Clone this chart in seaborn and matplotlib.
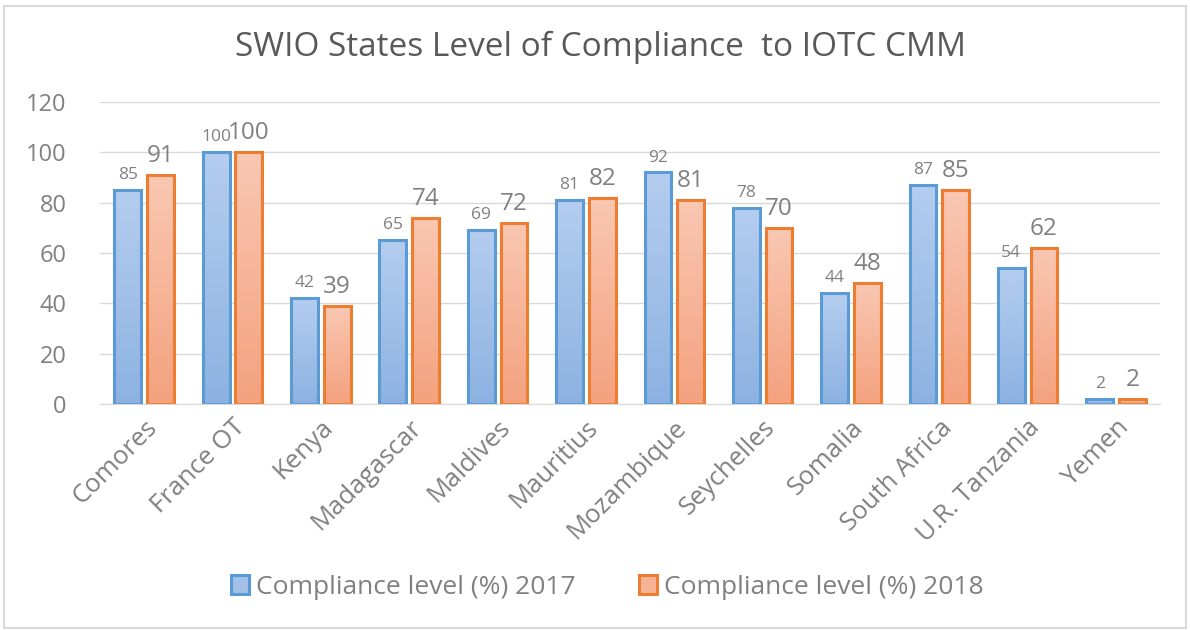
import numpy as np
import pandas as pd
import matplotlib.pyplot as plt
import seaborn as sns
from matplotlib.colors import LinearSegmentedColormap
from matplotlib.patches import Rectangle

countries = ['Comores', 'France OT', 'Kenya', 'Madagascar', 'Maldives', 'Mauritius',
             'Mozambique', 'Seychelles', 'Somalia', 'South Africa', 'U.R. Tanzania', 'Yemen']
level_2017 = [85, 100, 42, 65, 69, 81, 92, 78, 44, 87, 54, 2]
level_2018 = [91, 100, 39, 74, 72, 82, 81, 70, 48, 85, 62, 2]
series = ['Compliance level (%) 2017', 'Compliance level (%) 2018']

df = pd.DataFrame({
    'Country': countries * 2,
    'Level': level_2017 + level_2018,
    'Series': [series[0]] * len(countries) + [series[1]] * len(countries),
})

sns.set_style('white')
plt.rcParams['font.family'] = ['Open Sans', 'DejaVu Sans']
grey = '#808080'

fig = plt.figure(figsize=(11.9, 6.3), dpi=100)
ax = fig.add_axes([0.084, 0.359, 0.891, 0.479])

fills = ['#a3c0e8', '#f6b497']
edges = ['#5b9bd5', '#ed7d31']
grads = [('#b4cdef', '#8db2e2'), ('#f9c7b2', '#f4a27f')]
sns.barplot(data=df, x='Country', y='Level', hue='Series', palette=fills,
            width=0.74, gap=0.18, ax=ax, linewidth=2.2, legend=True)

# vertical gradient fill inside each bar, clipped to the bar shape
for i, cont in enumerate(ax.containers):
    cmap = LinearSegmentedColormap.from_list('g%d' % i, [grads[i][1], grads[i][0]])
    for bar in cont:
        bar.set_edgecolor(edges[i])
        bar.set_facecolor('none')
        x0, y0 = bar.get_x(), bar.get_y()
        w, h = bar.get_width(), bar.get_height()
        grad = np.linspace(0, 1, 64).reshape(-1, 1)
        im = ax.imshow(grad, cmap=cmap, origin='lower', aspect='auto',
                       extent=(x0, x0 + w, y0, y0 + h), zorder=bar.get_zorder() - 0.1)
        im.set_clip_path(bar)
    ax.bar_label(cont, padding=5, color=grey, fontsize=12.5 if i == 0 else 17.5)

ax.set_xlim(-0.5, len(countries) - 0.5)
ax.set_ylim(0, 120)
ax.set_yticks(range(0, 121, 20))
ax.yaxis.grid(True, color='#d9d9d9', linewidth=1)
ax.set_axisbelow(True)
for s in ['top', 'right', 'left']:
    ax.spines[s].set_visible(False)
ax.spines['bottom'].set_color('#d9d9d9')
ax.set_xlabel('')
ax.set_ylabel('')
ax.tick_params(axis='y', labelsize=17, labelcolor=grey, length=0, pad=24)
ax.tick_params(axis='x', labelsize=18.5, labelcolor=grey, length=0, pad=8)
plt.setp(ax.get_xticklabels(), rotation=45, ha='right', rotation_mode='anchor')

fig.suptitle('SWIO States Level of Compliance  to IOTC CMM', fontsize=24,
             color='#595959', x=0.505, y=0.925, va='center')

handles, labels = ax.get_legend_handles_labels()
for h, e, f in zip(handles, edges, fills):
    h.set_edgecolor(e)
    h.set_facecolor(f)
ax.legend(handles, labels, loc='center', bbox_to_anchor=(0.51, 0.068),
          bbox_transform=fig.transFigure, ncol=2, frameon=False, fontsize=19,
          labelcolor=grey, handlelength=0.7, handleheight=0.7, handletextpad=0.25,
          columnspacing=2.4)

fig.patches.append(Rectangle((0.003, 0.003), 0.994, 0.988, transform=fig.transFigure,
                             fill=False, edgecolor='#d9d9d9', linewidth=1.5))

fig.savefig('out.png', dpi=100)
